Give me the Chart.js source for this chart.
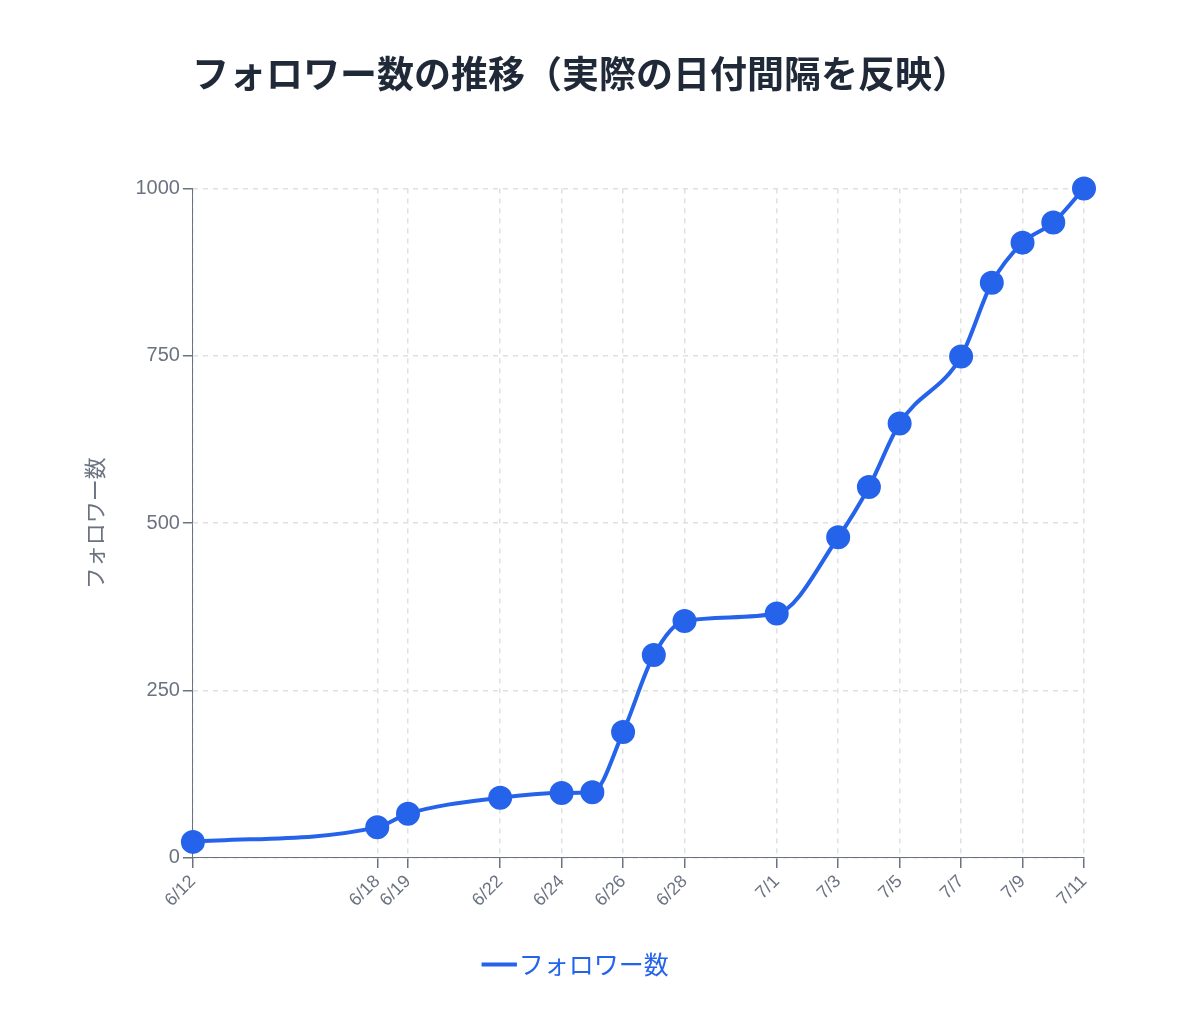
<!DOCTYPE html>
<html><head><meta charset="utf-8">
<script src="https://cdn.jsdelivr.net/npm/chart.js@4"></script>
<style>body{margin:0;background:#fff}#wrap{width:1200px;height:1013px}</style>
</head><body><div id="wrap"><canvas id="c"></canvas></div>
<script>
'use strict';
// 日付（6/12 からの日数）とフォロワー数
const dates = ['6/12','6/18','6/19','6/22','6/24','6/25','6/26','6/27','6/28','7/1','7/3','7/4','7/5','7/7','7/8','7/9','7/10','7/11'];
const followers = [24,46,66,90,97,98,188,303,354,365,479,554,649,749,859,919,949,1000];
const tickDates = ['6/12','6/18','6/19','6/22','6/24','6/26','6/28','7/1','7/3','7/5','7/7','7/9','7/11'];

const dayOf = s => { const [m,d] = s.split('/').map(Number); return (m===6 ? d : 30+d) - 12; };
const labelOf = n => { const d = n+12; return d<=30 ? '6/'+d : '7/'+(d-30); };
const points = dates.map((d,i) => ({x: dayOf(d), y: followers[i]}));
const blue = '#2563eb';
const grid = { color: '#e0e0e0', lineWidth: 1.5, tickLength: 10, tickColor: '#6b7280' };

new Chart(document.getElementById('c'), {
  type: 'line',
  data: { datasets: [{ label: 'フォロワー数', data: points, borderColor: blue, backgroundColor: blue,
    borderWidth: 4, pointRadius: 10, pointHoverRadius: 10, cubicInterpolationMode: 'monotone', clip: false }] },
  options: {
    responsive: true, maintainAspectRatio: false, animation: false,
    layout: { padding: { left: 77, right: 116, top: 52, bottom: 26 } },
    plugins: {
      title: { display: true, text: 'フォロワー数の推移（実際の日付間隔を反映）', color: '#1f2937',
        font: { size: 37, weight: 'bold', family: 'Noto Sans CJK JP' }, padding: { bottom: 92 } },
      legend: { position: 'bottom', labels: { color: blue, usePointStyle: true, pointStyle: 'line', boxWidth: 14,
        font: { size: 25, family: 'Noto Sans CJK JP' }, padding: 38 } }
    },
    scales: {
      x: { type: 'linear', min: 0, max: 29,
        afterBuildTicks: ax => { ax.ticks = tickDates.map(d => ({value: dayOf(d)})); },
        ticks: { callback: v => labelOf(v), maxRotation: 45, minRotation: 45, color: '#6b7280', font: { size: 18 } },
        grid, border: { dash: [5,5], color: '#6b7280' } },
      y: { min: 0, max: 1000, ticks: { stepSize: 250, color: '#6b7280', font: { size: 20 }, callback: v => String(v) },
        title: { display: true, text: 'フォロワー数', color: '#6b7280', font: { size: 22, family: 'Noto Sans CJK JP' }, padding: { bottom: 25 } },
        grid, border: { dash: [5,5], color: '#6b7280' } }
    }
  }
});
</script></body></html>
